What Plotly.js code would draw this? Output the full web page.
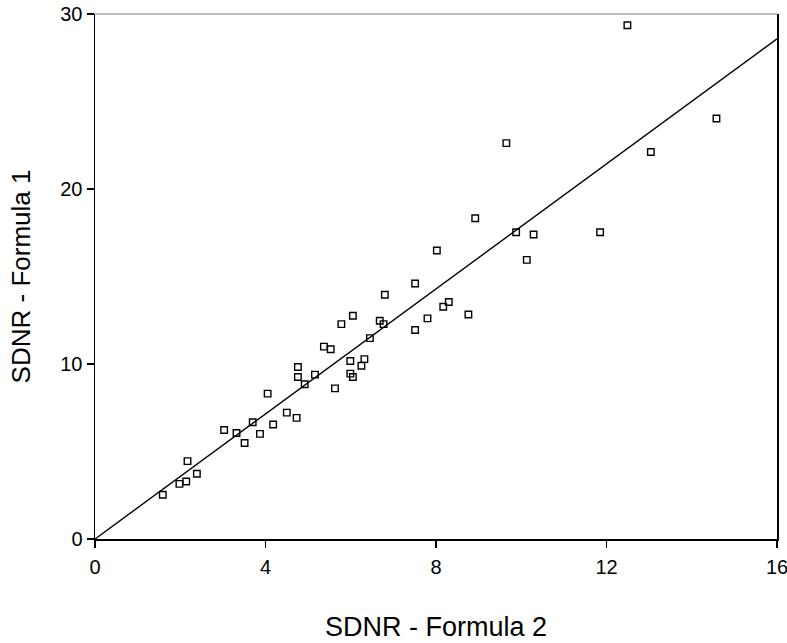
<!DOCTYPE html>
<html>
<head>
<meta charset="utf-8">
<script src="https://cdn.plot.ly/plotly-3.0.1.min.js"></script>
<style>html,body{margin:0;padding:0;background:#fff;}#chart{width:787px;height:643px;}</style>
</head>
<body>
<div id="chart"></div>
<script>
// SDNR values
var formula2 = [1.59, 1.98, 2.14, 2.17, 2.39, 3.03, 3.32, 3.51, 3.70, 3.87,
                4.05, 4.18, 4.50, 4.73, 4.76, 4.76, 4.92, 5.16, 5.37, 5.53,
                5.63, 5.78, 6.05, 5.99, 5.99, 6.05, 6.25, 6.32, 6.45, 6.68,
                6.77, 6.80, 7.51, 7.51, 7.80, 8.17, 8.30, 8.76, 12.49, 14.58,
                9.65, 13.04, 8.92, 9.88, 10.29, 11.85, 8.02, 10.13];
var formula1 = [2.53, 3.15, 3.29, 4.45, 3.73, 6.23, 6.06, 5.49, 6.67, 6.01,
                8.31, 6.54, 7.22, 6.92, 9.83, 9.26, 8.84, 9.39, 10.99, 10.84,
                8.61, 12.28, 12.76, 10.17, 9.45, 9.26, 9.90, 10.28, 11.48, 12.47,
                12.28, 13.96, 14.60, 11.94, 12.61, 13.27, 13.54, 12.83, 29.36, 24.03,
                22.62, 22.11, 18.33, 17.53, 17.40, 17.53, 16.49, 15.95];
// fitted line through the origin
var fitX = [0, 16];
var fitY = [0, 28.58];

var xTicks = [0, 4, 8, 12, 16];
var yTicks = [0, 10, 20, 30];

var font = "Arial, 'Liberation Sans', Helvetica, sans-serif";

var traces = [
  {x: fitX, y: fitY, mode: 'lines', type: 'scatter',
   line: {color: '#000', width: 1.4}, hoverinfo: 'skip', cliponaxis: false},
  {x: formula2, y: formula1, mode: 'markers', type: 'scatter',
   marker: {symbol: 'square-open', size: 6.5, color: '#000', line: {width: 1.4, color: '#000'}},
   cliponaxis: false}
];

var layout = {
  width: 787, height: 643,
  margin: {l: 95, r: 10, t: 14, b: 104},
  paper_bgcolor: '#fff', plot_bgcolor: '#fff',
  showlegend: false,
  font: {family: font, color: '#000'},
  xaxis: {
    range: [0, 16], tickvals: xTicks, ticktext: xTicks.map(String),
    showgrid: false, zeroline: false,
    showline: true, linecolor: '#000', linewidth: 1.5,
    ticks: 'outside', ticklen: 7, tickwidth: 1.3, tickcolor: '#000',
    tickfont: {size: 20, family: font},
    ticklabeloverflow: 'allow',
    ticklabelstandoff: 2,
    title: {text: 'SDNR - Formula 2', font: {size: 27, family: font}, standoff: 40}
  },
  yaxis: {
    range: [0, 30], tickvals: yTicks, ticktext: yTicks.map(String),
    showgrid: false, zeroline: false,
    showline: true, linecolor: '#000', linewidth: 1.5, mirror: true,
    ticks: 'outside', ticklen: 7, tickwidth: 1.3, tickcolor: '#000',
    tickfont: {size: 20, family: font},
    ticklabeloverflow: 'allow',
    title: {text: 'SDNR - Formula 1', font: {size: 26, family: font}, standoff: 22}
  },
  shapes: [
    {type: 'line', xref: 'x', yref: 'paper', x0: 0, x1: 16, y0: 1, y1: 1,
     line: {color: '#777', width: 1}}
  ]
};

Plotly.newPlot('chart', traces, layout, {displayModeBar: false, staticPlot: true});
</script>
</body>
</html>
